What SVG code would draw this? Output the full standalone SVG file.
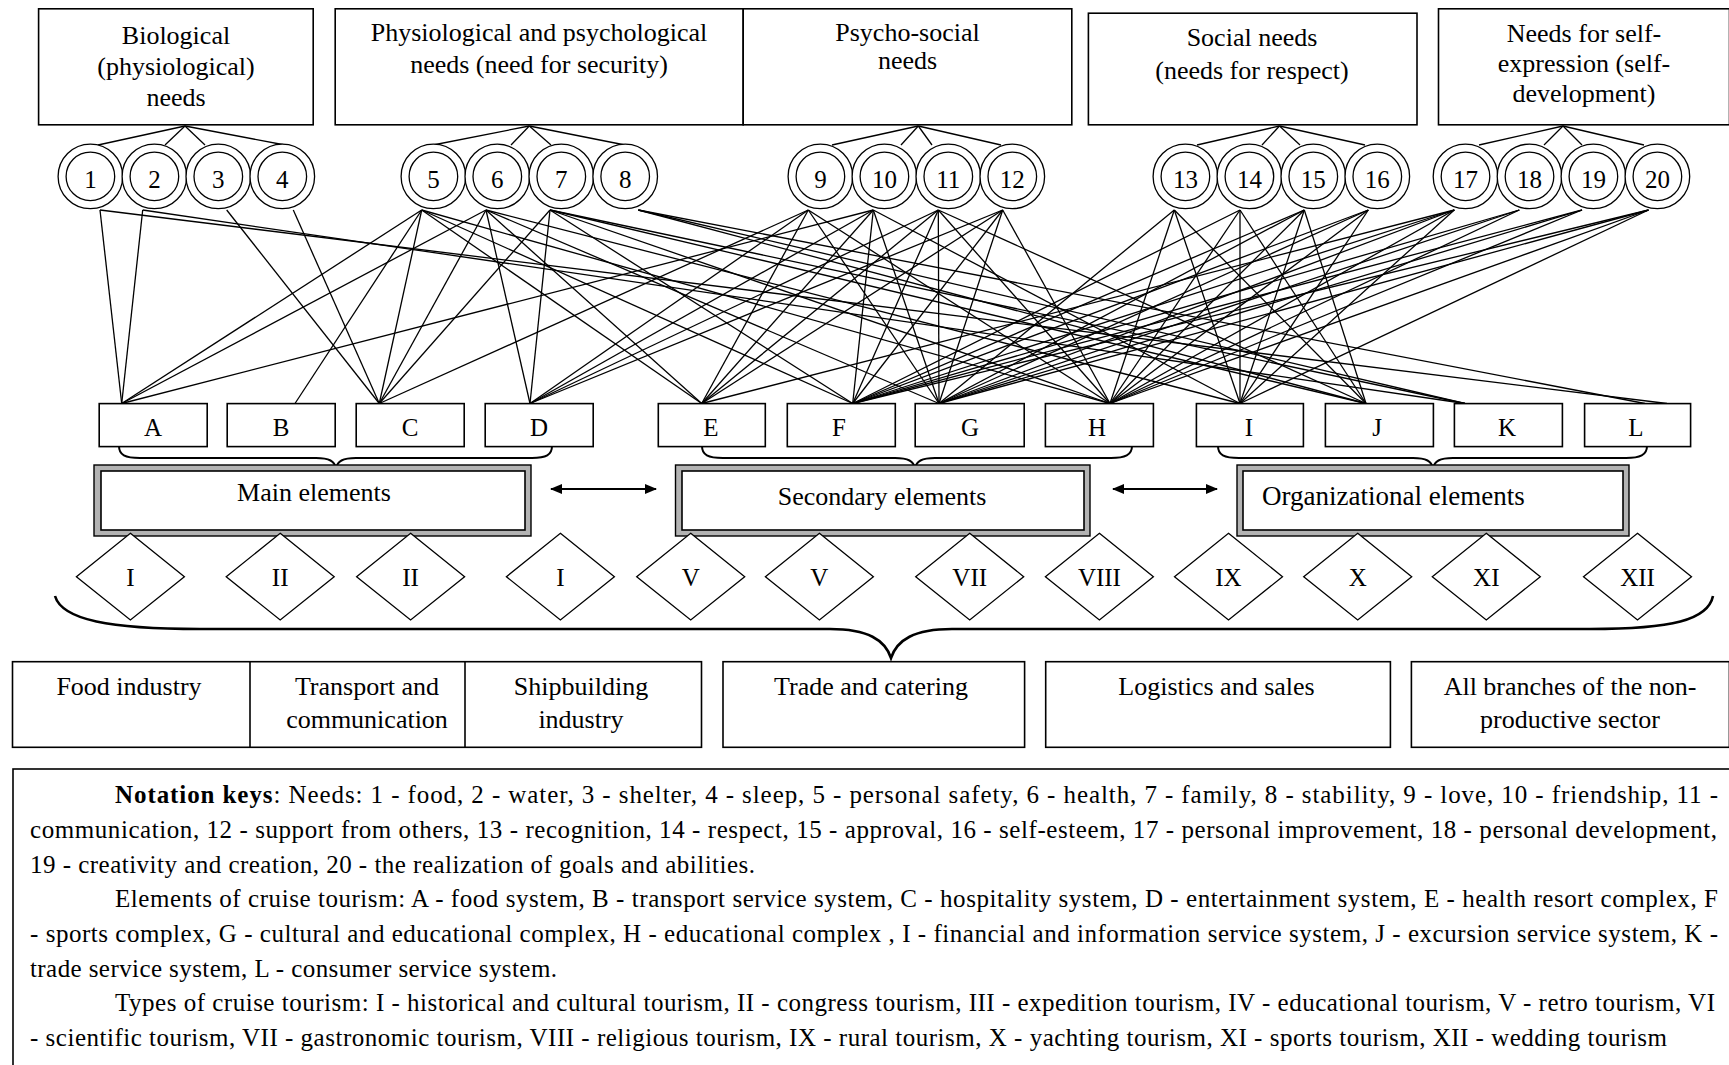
<svg xmlns="http://www.w3.org/2000/svg" width="1729" height="1065" viewBox="0 0 1729 1065">
<style>
text { font-family: "Liberation Serif", "Times New Roman", serif; fill: #000; }
.t { font-size: 26px; text-anchor: middle; }
.n { font-size: 25px; text-anchor: middle; }
.box { fill: #fff; stroke: #000; stroke-width: 1.6; }
.c { fill: #fff; stroke: #000; stroke-width: 1.3; }
.ln { stroke: #000; stroke-width: 1.3; fill: none; }
.br { stroke: #000; stroke-width: 2; fill: none; }
.leg { font-size: 25px; }
.outer { fill: #b3b3b3; stroke: #000; stroke-width: 1.4; }
</style>
<defs>
<marker id="ah" viewBox="0 0 12 10" refX="11" refY="5" markerWidth="12" markerHeight="10" markerUnits="userSpaceOnUse" orient="auto-start-reverse">
<path d="M0,0 L12,5 L0,10 Z" fill="#000"/>
</marker>
</defs>
<rect x="0" y="0" width="1729" height="1065" fill="#fff"/>

<!-- need category boxes -->
<g id="need-bio">
<rect class="box" x="38.6" y="8.8" width="274.6" height="116"/>
<text class="t" x="176" y="43.5">Biological</text>
<text class="t" x="176" y="74.5">(physiological)</text>
<text class="t" x="176" y="106">needs</text>
</g>
<g id="need-security">
<rect class="box" x="335.2" y="8.8" width="408" height="116"/>
<text class="t" x="539" y="41">Physiological and psychological</text>
<text class="t" x="539" y="73">needs (need for security)</text>
</g>
<g id="need-psychosocial">
<rect class="box" x="743.2" y="8.8" width="328.6" height="116"/>
<text class="t" x="907.5" y="41">Psycho-social</text>
<text class="t" x="907.5" y="68.5">needs</text>
</g>
<g id="need-social">
<rect class="box" x="1088.4" y="13.2" width="328.6" height="111.6"/>
<text class="t" x="1252" y="46">Social needs</text>
<text class="t" x="1252" y="79">(needs for respect)</text>
</g>
<g id="need-self">
<rect class="box" x="1438.5" y="8.8" width="291" height="116"/>
<text class="t" x="1584" y="42">Needs for self-</text>
<text class="t" x="1584" y="72">expression (self-</text>
<text class="t" x="1584" y="102">development)</text>
</g>

<!-- fans from category boxes to needs -->
<g id="fans" class="ln">
<line x1="185" y1="126" x2="98" y2="145"/><line x1="185" y1="126" x2="165" y2="145"/><line x1="185" y1="126" x2="205" y2="145"/><line x1="185" y1="126" x2="285" y2="145"/>
<line x1="529.3" y1="126" x2="433" y2="145"/><line x1="529.3" y1="126" x2="511" y2="145"/><line x1="529.3" y1="126" x2="551" y2="145"/><line x1="529.3" y1="126" x2="625" y2="145"/>
<line x1="918.3" y1="126" x2="832" y2="145"/><line x1="918.3" y1="126" x2="901" y2="145"/><line x1="918.3" y1="126" x2="932" y2="145"/><line x1="918.3" y1="126" x2="1001" y2="145"/>
<line x1="1279.5" y1="126" x2="1197" y2="145"/><line x1="1279.5" y1="126" x2="1262" y2="145"/><line x1="1279.5" y1="126" x2="1300" y2="145"/><line x1="1279.5" y1="126" x2="1365" y2="145"/>
<line x1="1563" y1="126" x2="1479" y2="145"/><line x1="1563" y1="126" x2="1544" y2="145"/><line x1="1563" y1="126" x2="1582" y2="145"/><line x1="1563" y1="126" x2="1644" y2="145"/>
</g>

<!-- needs circles -->
<g id="need-1"><circle class="c" cx="90.4" cy="176.4" r="32.3"/><circle class="c" cx="90.4" cy="176.4" r="24.3"/><text class="n" x="90.4" y="187.5">1</text></g>
<g id="need-2"><circle class="c" cx="154.4" cy="176.4" r="32.3"/><circle class="c" cx="154.4" cy="176.4" r="24.3"/><text class="n" x="154.4" y="187.5">2</text></g>
<g id="need-3"><circle class="c" cx="218.3" cy="176.4" r="32.3"/><circle class="c" cx="218.3" cy="176.4" r="24.3"/><text class="n" x="218.3" y="187.5">3</text></g>
<g id="need-4"><circle class="c" cx="282.3" cy="176.4" r="32.3"/><circle class="c" cx="282.3" cy="176.4" r="24.3"/><text class="n" x="282.3" y="187.5">4</text></g>
<g id="need-5"><circle class="c" cx="433.4" cy="176.4" r="32.3"/><circle class="c" cx="433.4" cy="176.4" r="24.3"/><text class="n" x="433.4" y="187.5">5</text></g>
<g id="need-6"><circle class="c" cx="497.3" cy="176.4" r="32.3"/><circle class="c" cx="497.3" cy="176.4" r="24.3"/><text class="n" x="497.3" y="187.5">6</text></g>
<g id="need-7"><circle class="c" cx="561.3" cy="176.4" r="32.3"/><circle class="c" cx="561.3" cy="176.4" r="24.3"/><text class="n" x="561.3" y="187.5">7</text></g>
<g id="need-8"><circle class="c" cx="625.2" cy="176.4" r="32.3"/><circle class="c" cx="625.2" cy="176.4" r="24.3"/><text class="n" x="625.2" y="187.5">8</text></g>
<g id="need-9"><circle class="c" cx="820.4" cy="176.4" r="32.3"/><circle class="c" cx="820.4" cy="176.4" r="24.3"/><text class="n" x="820.4" y="187.5">9</text></g>
<g id="need-10"><circle class="c" cx="884.4" cy="176.4" r="32.3"/><circle class="c" cx="884.4" cy="176.4" r="24.3"/><text class="n" x="884.4" y="187.5">10</text></g>
<g id="need-11"><circle class="c" cx="948.3" cy="176.4" r="32.3"/><circle class="c" cx="948.3" cy="176.4" r="24.3"/><text class="n" x="948.3" y="187.5">11</text></g>
<g id="need-12"><circle class="c" cx="1012.3" cy="176.4" r="32.3"/><circle class="c" cx="1012.3" cy="176.4" r="24.3"/><text class="n" x="1012.3" y="187.5">12</text></g>
<g id="need-13"><circle class="c" cx="1185.4" cy="176.4" r="32.3"/><circle class="c" cx="1185.4" cy="176.4" r="24.3"/><text class="n" x="1185.4" y="187.5">13</text></g>
<g id="need-14"><circle class="c" cx="1249.4" cy="176.4" r="32.3"/><circle class="c" cx="1249.4" cy="176.4" r="24.3"/><text class="n" x="1249.4" y="187.5">14</text></g>
<g id="need-15"><circle class="c" cx="1313.3" cy="176.4" r="32.3"/><circle class="c" cx="1313.3" cy="176.4" r="24.3"/><text class="n" x="1313.3" y="187.5">15</text></g>
<g id="need-16"><circle class="c" cx="1377.3" cy="176.4" r="32.3"/><circle class="c" cx="1377.3" cy="176.4" r="24.3"/><text class="n" x="1377.3" y="187.5">16</text></g>
<g id="need-17"><circle class="c" cx="1465.5" cy="176.4" r="32.3"/><circle class="c" cx="1465.5" cy="176.4" r="24.3"/><text class="n" x="1465.5" y="187.5">17</text></g>
<g id="need-18"><circle class="c" cx="1529.5" cy="176.4" r="32.3"/><circle class="c" cx="1529.5" cy="176.4" r="24.3"/><text class="n" x="1529.5" y="187.5">18</text></g>
<g id="need-19"><circle class="c" cx="1593.4" cy="176.4" r="32.3"/><circle class="c" cx="1593.4" cy="176.4" r="24.3"/><text class="n" x="1593.4" y="187.5">19</text></g>
<g id="need-20"><circle class="c" cx="1657.4" cy="176.4" r="32.3"/><circle class="c" cx="1657.4" cy="176.4" r="24.3"/><text class="n" x="1657.4" y="187.5">20</text></g>

<!-- connectors needs -> elements -->
<g id="connectors" class="ln">
<line x1="100" y1="210" x2="121.7" y2="403.5"/><line x1="100" y1="210" x2="1667" y2="403.5"/>
<line x1="142.7" y1="210" x2="121.7" y2="403.5"/><line x1="142.7" y1="210" x2="1465" y2="403.5"/>
<line x1="226.7" y1="210" x2="379.3" y2="403.5"/>
<line x1="293.3" y1="210" x2="379.3" y2="403.5"/>
<line x1="421.7" y1="210" x2="121.7" y2="403.5"/><line x1="421.7" y1="210" x2="295" y2="403.5"/><line x1="421.7" y1="210" x2="379.3" y2="403.5"/><line x1="421.7" y1="210" x2="701.7" y2="403.5"/><line x1="421.7" y1="210" x2="852.7" y2="403.5"/><line x1="421.7" y1="210" x2="1110" y2="403.5"/>
<line x1="486" y1="210" x2="121.7" y2="403.5"/><line x1="486" y1="210" x2="379.3" y2="403.5"/><line x1="486" y1="210" x2="530" y2="403.5"/><line x1="486" y1="210" x2="701.7" y2="403.5"/><line x1="486" y1="210" x2="939" y2="403.5"/><line x1="486" y1="210" x2="1240" y2="403.5"/>
<line x1="550" y1="210" x2="379.3" y2="403.5"/><line x1="550" y1="210" x2="530" y2="403.5"/><line x1="550" y1="210" x2="852.7" y2="403.5"/><line x1="550" y1="210" x2="1110" y2="403.5"/><line x1="550" y1="210" x2="1366" y2="403.5"/><line x1="550" y1="210" x2="1465" y2="403.5"/>
<line x1="638.3" y1="210" x2="1366" y2="403.5"/><line x1="638.3" y1="210" x2="1465" y2="403.5"/><line x1="638.3" y1="210" x2="1645" y2="403.5"/>
<line x1="808.3" y1="210" x2="379.3" y2="403.5"/><line x1="808.3" y1="210" x2="530" y2="403.5"/><line x1="808.3" y1="210" x2="701.7" y2="403.5"/><line x1="808.3" y1="210" x2="939" y2="403.5"/><line x1="808.3" y1="210" x2="1110" y2="403.5"/>
<line x1="873.3" y1="210" x2="121.7" y2="403.5"/><line x1="873.3" y1="210" x2="530" y2="403.5"/><line x1="873.3" y1="210" x2="701.7" y2="403.5"/><line x1="873.3" y1="210" x2="852.7" y2="403.5"/><line x1="873.3" y1="210" x2="939" y2="403.5"/><line x1="873.3" y1="210" x2="1240" y2="403.5"/>
<line x1="938.3" y1="210" x2="530" y2="403.5"/><line x1="938.3" y1="210" x2="701.7" y2="403.5"/><line x1="938.3" y1="210" x2="852.7" y2="403.5"/><line x1="938.3" y1="210" x2="939" y2="403.5"/><line x1="938.3" y1="210" x2="1110" y2="403.5"/><line x1="938.3" y1="210" x2="1366" y2="403.5"/>
<line x1="1002.7" y1="210" x2="530" y2="403.5"/><line x1="1002.7" y1="210" x2="701.7" y2="403.5"/><line x1="1002.7" y1="210" x2="852.7" y2="403.5"/><line x1="1002.7" y1="210" x2="939" y2="403.5"/><line x1="1002.7" y1="210" x2="1110" y2="403.5"/>
<line x1="1174.3" y1="210" x2="939" y2="403.5"/><line x1="1174.3" y1="210" x2="1110" y2="403.5"/><line x1="1174.3" y1="210" x2="1240" y2="403.5"/><line x1="1174.3" y1="210" x2="1366" y2="403.5"/>
<line x1="1240" y1="210" x2="852.7" y2="403.5"/><line x1="1240" y1="210" x2="1110" y2="403.5"/><line x1="1240" y1="210" x2="1240" y2="403.5"/><line x1="1240" y1="210" x2="1366" y2="403.5"/>
<line x1="1304.3" y1="210" x2="852.7" y2="403.5"/><line x1="1304.3" y1="210" x2="939" y2="403.5"/><line x1="1304.3" y1="210" x2="1110" y2="403.5"/><line x1="1304.3" y1="210" x2="1240" y2="403.5"/><line x1="1304.3" y1="210" x2="1366" y2="403.5"/>
<line x1="1368.3" y1="210" x2="852.7" y2="403.5"/><line x1="1368.3" y1="210" x2="939" y2="403.5"/><line x1="1368.3" y1="210" x2="1110" y2="403.5"/><line x1="1368.3" y1="210" x2="1240" y2="403.5"/>
<line x1="1454.3" y1="210" x2="701.7" y2="403.5"/><line x1="1454.3" y1="210" x2="852.7" y2="403.5"/><line x1="1454.3" y1="210" x2="939" y2="403.5"/><line x1="1454.3" y1="210" x2="1110" y2="403.5"/><line x1="1454.3" y1="210" x2="1240" y2="403.5"/>
<line x1="1519.3" y1="210" x2="852.7" y2="403.5"/><line x1="1519.3" y1="210" x2="939" y2="403.5"/><line x1="1519.3" y1="210" x2="1110" y2="403.5"/>
<line x1="1582" y1="210" x2="852.7" y2="403.5"/><line x1="1582" y1="210" x2="939" y2="403.5"/><line x1="1582" y1="210" x2="1110" y2="403.5"/>
<line x1="1648.5" y1="210" x2="852.7" y2="403.5"/><line x1="1648.5" y1="210" x2="939" y2="403.5"/><line x1="1648.5" y1="210" x2="1110" y2="403.5"/><line x1="1648.5" y1="210" x2="1240" y2="403.5"/>
</g>

<!-- element boxes -->
<g id="el-A"><rect class="box" x="99.2" y="403.6" width="108" height="43"/><text class="n" x="153" y="436">A</text></g>
<g id="el-B"><rect class="box" x="227.2" y="403.6" width="108" height="43"/><text class="n" x="281" y="436">B</text></g>
<g id="el-C"><rect class="box" x="356.2" y="403.6" width="108" height="43"/><text class="n" x="410" y="436">C</text></g>
<g id="el-D"><rect class="box" x="485.2" y="403.6" width="108" height="43"/><text class="n" x="539" y="436">D</text></g>
<g id="el-E"><rect class="box" x="658.3" y="403.6" width="107" height="43"/><text class="n" x="711" y="436">E</text></g>
<g id="el-F"><rect class="box" x="787.3" y="403.6" width="108" height="43"/><text class="n" x="839" y="436">F</text></g>
<g id="el-G"><rect class="box" x="915.2" y="403.6" width="109" height="43"/><text class="n" x="970" y="436">G</text></g>
<g id="el-H"><rect class="box" x="1045.4" y="403.6" width="108" height="43"/><text class="n" x="1097" y="436">H</text></g>
<g id="el-I"><rect class="box" x="1196.4" y="403.6" width="107" height="43"/><text class="n" x="1249" y="436">I</text></g>
<g id="el-J"><rect class="box" x="1325.4" y="403.6" width="108" height="43"/><text class="n" x="1377" y="436">J</text></g>
<g id="el-K"><rect class="box" x="1454.4" y="403.6" width="108" height="43"/><text class="n" x="1507" y="436">K</text></g>
<g id="el-L"><rect class="box" x="1584.6" y="403.6" width="106" height="43"/><text class="n" x="1636" y="436">L</text></g>

<!-- braces -->
<g id="braces">
<path class="br" d="M119,446 C119,455 125,458 140,458 L316,458 C329,458 335,461 336,469 C337,461 343,458 356,458 L532,458 C546,458 552,455 552,446"/>
<path class="br" d="M702,446 C702,455 708,458 723,458 L895,458 C908,458 914,461 915,469 C916,461 922,458 935,458 L1111,458 C1125,458 1132,455 1132,446"/>
<path class="br" d="M1218,446 C1218,455 1224,458 1239,458 L1413,458 C1426,458 1432,461 1433,469 C1434,461 1440,458 1453,458 L1626,458 C1640,458 1647,455 1647,446"/>
<path stroke="#000" stroke-width="2.6" fill="none" d="M55,596 C62,620 110,629 200,629 L830,629 C868,629 885,640 891,658 C897,640 914,629 952,629 L1590,629 C1672,629 1708,620 1713,596"/>
</g>

<!-- element groups -->
<g id="grp-main">
<rect class="outer" x="94" y="465" width="437" height="71"/>
<rect class="box" x="101" y="471" width="424" height="59" stroke-width="1.4"/>
<text class="t" x="314" y="501" font-size="27">Main elements</text>
</g>
<g id="grp-secondary">
<rect class="outer" x="675.5" y="465" width="414.5" height="71"/>
<rect class="box" x="682" y="471" width="402" height="59" stroke-width="1.4"/>
<text class="t" x="882" y="505" font-size="27">Secondary elements</text>
</g>
<g id="grp-organizational">
<rect class="outer" x="1237" y="465" width="392" height="71"/>
<rect class="box" x="1243" y="471" width="380" height="59" stroke-width="1.4"/>
<text x="1262" y="505" font-size="27">Organizational elements</text>
</g>
<g id="arrows" stroke="#000" stroke-width="2">
<line x1="551" y1="489" x2="656" y2="489" marker-start="url(#ah)" marker-end="url(#ah)"/>
<line x1="1113" y1="489" x2="1217" y2="489" marker-start="url(#ah)" marker-end="url(#ah)"/>
</g>

<!-- tourism types -->
<g id="type-1"><path class="c" d="M130.4,533.3 L184.4,576.7 L130.4,620 L76.4,576.7 Z"/><text class="n" x="130.4" y="586">I</text></g>
<g id="type-2"><path class="c" d="M280.2,533.3 L334.2,576.7 L280.2,620 L226.2,576.7 Z"/><text class="n" x="280.2" y="586">II</text></g>
<g id="type-3"><path class="c" d="M410.6,533.3 L464.6,576.7 L410.6,620 L356.6,576.7 Z"/><text class="n" x="410.6" y="586">II</text></g>
<g id="type-4"><path class="c" d="M560.4,533.3 L614.4,576.7 L560.4,620 L506.4,576.7 Z"/><text class="n" x="560.4" y="586">I</text></g>
<g id="type-5"><path class="c" d="M690.7,533.3 L744.7,576.7 L690.7,620 L636.7,576.7 Z"/><text class="n" x="690.7" y="586">V</text></g>
<g id="type-6"><path class="c" d="M819.4,533.3 L873.4,576.7 L819.4,620 L765.4,576.7 Z"/><text class="n" x="819.4" y="586">V</text></g>
<g id="type-7"><path class="c" d="M969.7,533.3 L1023.7,576.7 L969.7,620 L915.7,576.7 Z"/><text class="n" x="969.7" y="586">VII</text></g>
<g id="type-8"><path class="c" d="M1099.4,533.3 L1153.4,576.7 L1099.4,620 L1045.4,576.7 Z"/><text class="n" x="1099.4" y="586">VIII</text></g>
<g id="type-9"><path class="c" d="M1228.5,533.3 L1282.5,576.7 L1228.5,620 L1174.5,576.7 Z"/><text class="n" x="1228.5" y="586">IX</text></g>
<g id="type-10"><path class="c" d="M1357.7,533.3 L1411.7,576.7 L1357.7,620 L1303.7,576.7 Z"/><text class="n" x="1357.7" y="586">X</text></g>
<g id="type-11"><path class="c" d="M1486.3,533.3 L1540.3,576.7 L1486.3,620 L1432.3,576.7 Z"/><text class="n" x="1486.3" y="586">XI</text></g>
<g id="type-12"><path class="c" d="M1637.5,533.3 L1691.5,576.7 L1637.5,620 L1583.5,576.7 Z"/><text class="n" x="1637.5" y="586">XII</text></g>

<!-- industries -->
<g id="ind-1">
<rect class="box" x="12.5" y="661.7" width="689" height="85.6"/>
<line x1="250" y1="661.7" x2="250" y2="747.3" stroke="#000" stroke-width="1.6"/>
<line x1="465" y1="661.7" x2="465" y2="747.3" stroke="#000" stroke-width="1.6"/>
<text class="t" x="129" y="695">Food industry</text>
<text class="t" x="367" y="695">Transport and</text>
<text class="t" x="367" y="728">communication</text>
<text class="t" x="581" y="695">Shipbuilding</text>
<text class="t" x="581" y="728">industry</text>
</g>
<g id="ind-2"><rect class="box" x="723" y="661.7" width="301.6" height="85.6"/><text class="t" x="871" y="695">Trade and catering</text></g>
<g id="ind-3"><rect class="box" x="1045.7" y="661.7" width="344.7" height="85.6"/><text class="t" x="1216.5" y="695">Logistics and sales</text></g>
<g id="ind-4"><rect class="box" x="1411.4" y="661.7" width="318" height="85.6"/><text class="t" x="1570" y="695">All branches of the non-</text><text class="t" x="1570" y="728">productive sector</text></g>

<!-- legend -->
<g id="legend">
<rect x="13" y="769" width="1730" height="320" fill="#fff" stroke="#000" stroke-width="1.6"/>
<text class="leg" x="115" y="803" textLength="1603" lengthAdjust="spacing"><tspan font-weight="bold">Notation keys</tspan>: Needs: 1 - food, 2 - water, 3 - shelter, 4 - sleep, 5 - personal safety, 6 - health, 7 - family, 8 - stability, 9 - love, 10 - friendship, 11 -</text>
<text class="leg" x="30" y="838" textLength="1687" lengthAdjust="spacing">communication, 12 - support from others, 13 - recognition, 14 - respect, 15 - approval, 16 - self-esteem, 17 - personal improvement, 18 - personal development,</text>
<text class="leg" x="30" y="873" textLength="725" lengthAdjust="spacing">19 - creativity and creation, 20 - the realization of goals and abilities.</text>
<text class="leg" x="115" y="907" textLength="1603" lengthAdjust="spacing">Elements of cruise tourism: A - food system, B - transport service system, C - hospitality system, D - entertainment system, E - health resort complex, F</text>
<text class="leg" x="30" y="942" textLength="1688" lengthAdjust="spacing">- sports complex, G - cultural and educational complex, H - educational complex , I - financial and information service system, J - excursion service system, K -</text>
<text class="leg" x="30" y="977" textLength="527" lengthAdjust="spacing">trade service system, L - consumer service system.</text>
<text class="leg" x="115" y="1011" textLength="1600" lengthAdjust="spacing">Types of cruise tourism: I - historical and cultural tourism, II - congress tourism, III - expedition tourism, IV - educational tourism, V - retro tourism, VI</text>
<text class="leg" x="30" y="1046" textLength="1637" lengthAdjust="spacing">- scientific tourism, VII - gastronomic tourism, VIII - religious tourism, IX - rural tourism, X - yachting tourism, XI - sports tourism, XII - wedding tourism</text>
</g>
</svg>
